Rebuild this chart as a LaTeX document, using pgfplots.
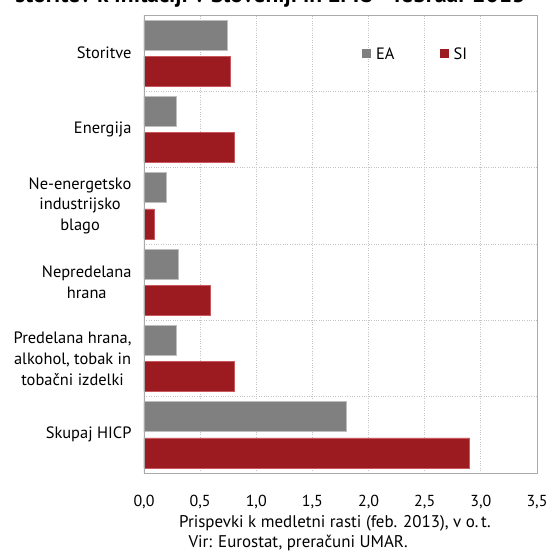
\documentclass[border=0pt]{standalone}
\usepackage{pgfplots}
\pgfplotsset{compat=1.18}
\usepackage{fontspec}
\setmainfont{PT Sans}
\definecolor{eagray}{RGB}{128,128,128}
\definecolor{eaedge}{RGB}{190,190,190}
\definecolor{sired}{RGB}{155,27,32}
\definecolor{siedge}{RGB}{200,90,95}
\definecolor{gridc}{RGB}{195,195,195}
\definecolor{axc}{RGB}{170,170,170}
\begin{document}
\begin{tikzpicture}
\begin{axis}[
  at={(0bp,0bp)}, anchor=south west,
  width=393bp, height=458bp, scale only axis,
  xbar, bar width=30bp,
  xmin=0, xmax=3.5, ymin=-0.5, ymax=5.5,
  xtick={0,0.5,1,1.5,2,2.5,3,3.5},
  ytick={0,1,2,3,4,5},
  yticklabels={Skupaj HICP, {Predelana hrana,\\alkohol, tobak in\\tobačni izdelki}, {Nepredelana\\hrana}, {Ne-energetsko\\industrijsko\\blago}, Energija, Storitve},
  minor ytick={0.5,1.5,2.5,3.5,4.5},
  xmajorgrids, yminorgrids, ymajorgrids=false,
  major grid style={gridc, dotted, line width=0.9pt},
  minor grid style={gridc, dotted, line width=0.9pt},
  major tick length=0pt, minor tick length=0pt,
  axis line style={axc, line width=0.9pt},
  /pgf/number format/assume math mode=true,
  xticklabel={\pgfmathprintnumber[use comma, fixed, fixed zerofill, precision=1]{\tick}},
  xticklabel style={font=\fontsize{16}{19}\selectfont, yshift=-19bp},
  yticklabel style={font=\fontsize{16.5}{21}\selectfont, align=center, xshift=-9bp},
  legend style={draw=none, fill=none, legend columns=2, at={(0.547,0.915)}, anchor=west,
    font=\fontsize{16.5}{19}\selectfont,
    /tikz/every even column/.append style={column sep=40bp}},
  legend image code/.code={\path[#1, draw=none] (-1bp,-4.5bp) rectangle (8bp,4.5bp);},
  legend style={nodes={inner xsep=5bp}},
]
\addplot[fill=eagray, draw=eaedge, line width=0.8pt, bar shift=18bp] coordinates {
  (1.80,0) (0.29,1) (0.31,2) (0.20,3) (0.29,4) (0.74,5)};
\addplot[fill=sired, draw=siedge, line width=0.6pt, bar shift=-18bp] coordinates {
  (2.90,0) (0.80,1) (0.59,2) (0.09,3) (0.80,4) (0.77,5)};
\legend{EA, SI}
\draw[axc, line width=2pt] (rel axis cs:0,0) -- (rel axis cs:0,1);
\end{axis}
\node[anchor=base, font=\fontsize{17}{20}\selectfont] at (191bp,-54bp) {Prispevki k medletni rasti (feb. 2013), v o.\,t.};
\node[anchor=base west, font=\fontsize{17}{20}\selectfont] at (41bp,-74bp) {Vir: Eurostat, preračuni UMAR.};
\node[anchor=base east, font=\bfseries\fontsize{23.5}{26}\selectfont] at (385bp,470bp) {storitev k inflaciji v Sloveniji in EMU - februar 2013};
\pgfresetboundingbox
\path[use as bounding box] (-144bp,-84bp) rectangle (406bp,473bp);
\end{tikzpicture}
\end{document}
